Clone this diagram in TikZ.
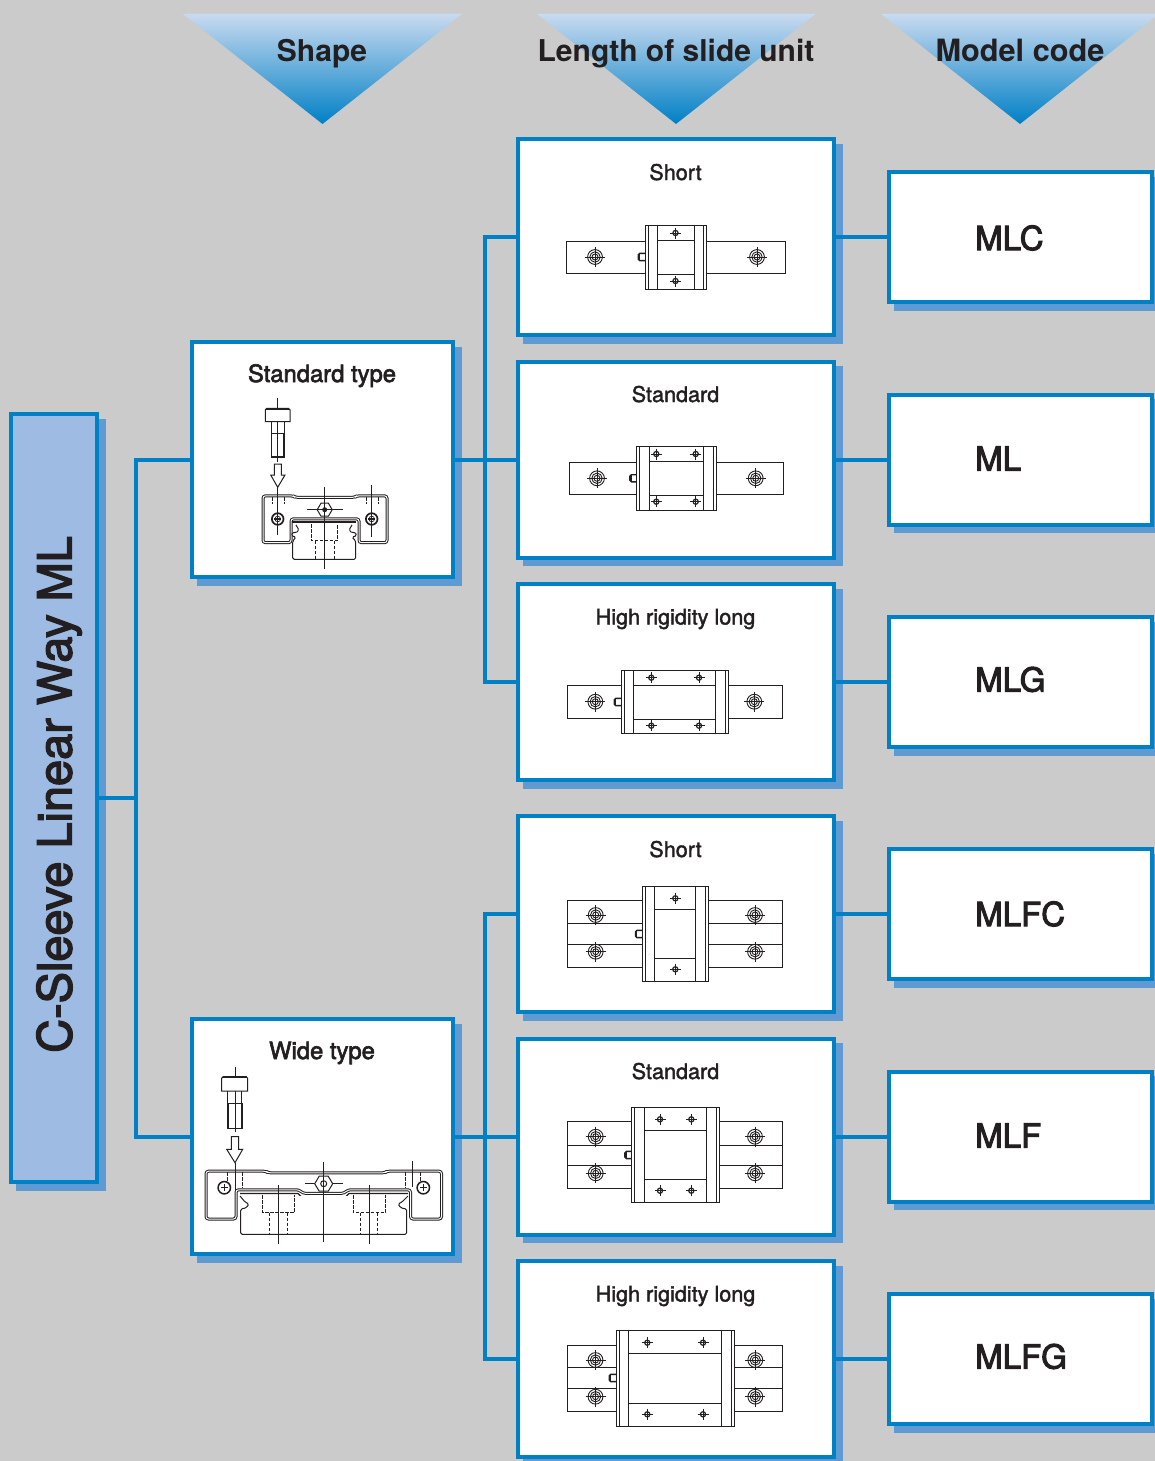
\documentclass[tikz,border=0pt]{standalone}
\usepackage{fontspec}
\usetikzlibrary{shadows}
\setmainfont{TeX Gyre Heros}
\newcommand{\emb}[2]{\special{pdf:code q 2 Tr #1 w}#2\special{pdf:code Q}}
\definecolor{bggrey}{HTML}{CBCBCB}
\definecolor{boxblue}{HTML}{0080C5}
\definecolor{shadowblue}{HTML}{5F9AD2}
\definecolor{mainfill}{HTML}{9DBBE3}
\definecolor{ink}{HTML}{231F20}
\definecolor{gradtop}{HTML}{C9DAF0}
\definecolor{gradmid}{HTML}{7AA4DB}
\tikzset{
  bluebox/.style={draw=boxblue,line width=4pt,fill=white,inner sep=0pt,
    copy shadow={shadow xshift=6.7pt,shadow yshift=-6.7pt,draw=shadowblue,fill=shadowblue}},
  lenbox/.style={bluebox,minimum width=316pt,minimum height=196pt},
  modelbox/.style={bluebox,minimum width=263pt,minimum height=130pt},
  shapebox/.style={bluebox,minimum width=261pt,minimum height=235pt},
  link/.style={draw=boxblue,line width=4pt},
  headtext/.style={font=\bfseries\fontsize{30}{32}\selectfont,text=ink,anchor=base,inner sep=0pt},
  labeltext/.style={font=\fontsize{21.6}{24}\selectfont,text=ink,anchor=base,inner sep=0pt},
  shapetext/.style={font=\fontsize{23.8}{26}\selectfont,text=ink,anchor=base,inner sep=0pt},
  modeltext/.style={font=\fontsize{33}{36}\selectfont,text=ink,anchor=base west,inner sep=0pt},
  drawing/.style={draw=ink,line width=1pt},
  thinline/.style={draw=ink,line width=0.45pt},
  dashline/.style={draw=ink,line width=0.7pt,dash pattern=on 3.5pt off 1.5pt},
}
\newcommand{\railbar}[4]{\draw[drawing,fill=white] (#1,#3) rectangle (#2,#4);}
\newcommand{\railsplit}[4]{\draw[drawing] (#1,#3) -- (#2,#3) (#1,#4) -- (#2,#4);}
\newcommand{\mbolt}[2]{%
  \draw[thinline] (#1-10,#2) -- (#1+10,#2) (#1,#2-10) -- (#1,#2+10);
  \draw[draw=ink,line width=0.9pt] (#1,#2) circle (7.4pt) circle (5.2pt) circle (3pt);}
\newcommand{\tinyscrew}[2]{%
  \draw[thinline] (#1-5.5,#2) -- (#1+5.5,#2) (#1,#2-5.5) -- (#1,#2+5.5);
  \draw[draw=ink,line width=1.2pt] (#1,#2) circle (2.6pt);}
\newcommand{\grease}[2]{%
  \draw[draw=ink,line width=1.4pt,rounded corners=1.5pt] (#1,#2-3.6) -- (#1-6.8,#2-3.6) -- (#1-6.8,#2+3.6) -- (#1,#2+3.6);
  \draw[ink,line width=2.2pt] (#1-6,#2-3) -- (#1-6,#2+3);}
\newcommand{\slideblock}[6]{%
  \draw[drawing,fill=white] (#1,#3) rectangle (#2,#4);
  \draw[drawing] (#1+3,#3) -- (#1+3,#4) (#2-3,#3) -- (#2-3,#4);
  \draw[drawing] (#1+12.5,#3) -- (#1+12.5,#4) (#2-12.5,#3) -- (#2-12.5,#4);
  \draw[drawing] (#1+12.5,#5) -- (#2-12.5,#5) (#1+12.5,#6) -- (#2-12.5,#6);}
\newcommand{\capbolt}[9]{% cx, headL, headR, headT, headB, shankL, shankR, shankB, threadY
  \draw[drawing,fill=white] (#2,#5) -- (#2,#4+1.5) -- (#2+1.5,#4) -- (#3-1.5,#4) -- (#3,#4+1.5) -- (#3,#5) -- cycle;
  \draw[ink,line width=1.7pt] (#2+1,#4+.4) -- (#3-1,#4+.4);
  \draw[drawing] (#6,#5) -- (#6,#9) (#7,#5) -- (#7,#9);
  \draw[drawing,line width=1.6pt] (#6,#9) -- (#6,#8) -- (#7,#8) -- (#7,#9) -- cycle;}
\begin{document}
\begin{tikzpicture}[x=1pt,y=-1pt]
\useasboundingbox (0,0) rectangle (1155,1461);
\clip (0,0) rectangle (1155,1461);
\fill[bggrey] (0,0) rectangle (1155,1461);

% header triangles
\shade[top color=gradtop,middle color=gradmid,bottom color=boxblue] (183,14) -- (462,14) -- (322.5,124) -- cycle;
\shade[top color=gradtop,middle color=gradmid,bottom color=boxblue] (537,14) -- (815.5,14) -- (676,124) -- cycle;
\shade[top color=gradtop,middle color=gradmid,bottom color=boxblue] (881,14) -- (1159,14) -- (1020,124) -- cycle;
\node[headtext] (hShape) at (322,62) {Shape};
\node[headtext] (hLength) at (676,62) {Length of slide unit};
\node[headtext,font=\bfseries\fontsize{30.7}{32}\selectfont] (hModel) at (1020,62) {Model code};

% boxes
\node[bluebox,minimum width=86pt,minimum height=768pt,fill=mainfill] (main) at (54,798) {};
\node[shapebox] (std) at (322.5,459.5) {};
\node[shapebox] (wide) at (322.5,1136.5) {};
\node[lenbox] (a1) at (676,237) {};
\node[lenbox] (a2) at (676,459.5) {};
\node[lenbox] (a3) at (676,682) {};
\node[lenbox] (b1) at (676,914) {};
\node[lenbox] (b2) at (676,1136.5) {};
\node[lenbox] (b3) at (676,1359) {};
\node[modelbox] (m1) at (1020.5,237) {};
\node[modelbox] (m2) at (1020.5,459.5) {};
\node[modelbox] (m3) at (1020.5,682) {};
\node[modelbox] (m4) at (1020.5,914) {};
\node[modelbox] (m5) at (1020.5,1136.5) {};
\node[modelbox] (m6) at (1020.5,1359) {};

% connectors
\coordinate (busMain) at (136,798);
\coordinate (busA) at (485,459.5);
\coordinate (busB) at (485,1136.5);
\draw[link] (main.east) -- (busMain);
\draw[link] (std.west) -| (busMain);
\draw[link] (wide.west) -| (busMain);
\draw[link] (std.east) -- (a2.west);
\draw[link] (wide.east) -- (b2.west);
\draw[link] (a1.west) -| (busA);
\draw[link] (a3.west) -| (busA);
\draw[link] (b1.west) -| (busB);
\draw[link] (b3.west) -| (busB);
\foreach \p/\q in {a1/m1,a2/m2,a3/m3,b1/m4,b2/m5,b3/m6}{\draw[link] (\p.east) -- (\q.west);}

% texts
\node[rotate=90,font=\fontsize{46.9}{50}\selectfont,text=ink,inner sep=0pt,anchor=base] (mainT) at (71.5,794.5) {\emb{1.4}{C-Sleeve Linear Way ML}};
\node[shapetext] (tStd) at (322,382) {\emb{0.6}{Standard type}};
\node[shapetext] (tWide) at (322,1059) {\emb{0.6}{Wide type}};
\node[labeltext] (l1) at (675.5,180) {\emb{0.35}{Short}};
\node[labeltext] (l2) at (675.5,402) {\emb{0.35}{Standard}};
\node[labeltext] (l3) at (675.5,624.5) {\emb{0.35}{High rigidity long}};
\node[labeltext] (l4) at (675.5,857) {\emb{0.35}{Short}};
\node[labeltext] (l5) at (675.5,1079) {\emb{0.35}{Standard}};
\node[labeltext] (l6) at (675.5,1301.5) {\emb{0.35}{High rigidity long}};
\node[modeltext] (c1) at (975,250) {\emb{1}{MLC}};
\node[modeltext] (c2) at (975,470.5) {\emb{1}{ML}};
\node[modeltext] (c3) at (975,691.5) {\emb{1}{MLG}};
\node[modeltext] (c4) at (975,926) {\emb{1}{MLFC}};
\node[modeltext] (c5) at (975,1147.5) {\emb{1}{MLF}};
\node[modeltext] (c6) at (975,1368.5) {\emb{1}{MLFG}};

% --- Standard type drawing
\draw[thinline] (277.7,398) -- (277.7,462);
\capbolt{277.7}{265.3}{290}{408.3}{421.7}{271.3}{284}{456.7}{433.3}
\draw[drawing,fill=white] (274.3,464) -- (281.3,464) -- (281.3,475) -- (285,475) -- (277.7,487.3) -- (270.7,475) -- (274.3,475) -- cycle;
\draw[draw=ink,line width=1pt,double=white,double distance=1pt,rounded corners=2.5pt]
  (291,542.7) -- (263,542.7) -- (263,495.8) -- (293,495.8) -- (295,497.3) -- (355,497.3) -- (357,495.8) -- (387,495.8) -- (387,542.7) -- (359,542.7) -- (359,518.8) -- (291,518.8) -- cycle;
\draw[ink,line width=2pt] (292,522) -- (356,522);
\draw[drawing,fill=white,rounded corners=1.5pt] (296,525) -- (299,530) -- (296,533) -- (292.7,532) -- (291.5,536) -- (296,537) -- (292.7,541) -- (292.7,559.3) -- (355.7,559.3) -- (355.7,541) -- (352,537) -- (356.5,536) -- (355.3,532) -- (352,533) -- (349,530) -- (352,525);
\draw[dashline] (311.3,524) -- (311.3,540.7) -- (337.7,540.7) -- (337.7,524);
\draw[dashline] (315,540.7) -- (315,558.5) (334,540.7) -- (334,558.5);
\draw[thinline] (324.7,486.7) -- (324.7,569.3) (306.7,509.7) -- (342.7,509.7);
\draw[drawing] (317.2,509.7) -- (321,503.2) -- (328.4,503.2) -- (332.2,509.7) -- (328.4,516.2) -- (321,516.2) -- cycle;
\fill[ink] (324.7,509.7) circle (2.5pt);
\draw[dashline] (272,497) -- (272,503.5) (284,497) -- (284,503.5) (366,497) -- (366,503.5) (378.3,497) -- (378.3,503.5);
\draw[thinline] (277.7,487.3) -- (277.7,535) (371.7,485) -- (371.7,536.7);
\foreach \sx in {277.7,371.7}{
  \draw[draw=ink,line width=1.7pt] (\sx,519) circle (5.8pt);
  \draw[draw=ink,line width=0.7pt] (\sx,519) circle (2.8pt);
  \draw[ink,line width=1.1pt] (\sx-3.5,519) -- (\sx+3.5,519) (\sx,515.5) -- (\sx,522.5);}

% --- Wide type drawing
\draw[thinline] (235,1066.7) -- (235,1132);
\capbolt{235}{221.7}{247.7}{1076.7}{1091}{227.7}{241.7}{1128.3}{1103.3}
\draw[drawing,fill=white] (231.3,1136.7) -- (238.7,1136.7) -- (238.7,1149.3) -- (242.7,1149.3) -- (235,1162.7) -- (226.7,1149.3) -- (231.3,1149.3) -- cycle;
\draw[draw=ink,line width=1pt,double=white,double distance=1pt,rounded corners=2.5pt]
  (236,1219) -- (206,1219) -- (206,1171.2) -- (266,1171.2) -- (268,1172.8) -- (385,1172.8) -- (387,1171.2) -- (441.5,1171.2) -- (441.5,1219) -- (410.5,1219) -- (410.5,1189.8) -- (348,1189.8) -- (344,1193.3) -- (303,1193.3) -- (299,1189.8) -- (236,1189.8) -- cycle;
\draw[drawing,line width=1.2pt] (240,1193.5) -- (298,1193.5) -- (302,1197.3) -- (345,1197.3) -- (349,1193.5) -- (408,1193.5);
\draw[drawing,fill=white,rounded corners=1.5pt] (240,1196) -- (245,1202) -- (249,1204) -- (246,1208) -- (240.7,1209) -- (240.7,1234.3) -- (406.7,1234.3) -- (406.7,1209) -- (401,1208) -- (398,1204) -- (402,1202) -- (408,1196);
\draw[dashline] (262.7,1195) -- (262.7,1212.7) -- (294,1212.7) -- (294,1195);
\draw[dashline] (269.3,1212.7) -- (269.3,1234) (287.3,1212.7) -- (287.3,1234);
\draw[dashline] (353.3,1195) -- (353.3,1212.7) -- (385.7,1212.7) -- (385.7,1195);
\draw[dashline] (360.3,1212.7) -- (360.3,1234) (377.7,1212.7) -- (377.7,1234);
\draw[thinline] (278.3,1185) -- (278.3,1244.3) (369,1185) -- (369,1244.3);
\draw[thinline] (323.7,1162.3) -- (323.7,1241.7) (305,1183.7) -- (342.7,1183.7);
\draw[drawing,fill=white] (314.7,1183.7) -- (319.2,1176.2) -- (328.2,1176.2) -- (332.7,1183.7) -- (328.2,1191.2) -- (319.2,1191.2) -- cycle;
\draw[drawing] (323.7,1183.7) circle (3pt);
\draw[thinline] (323.7,1176.2) -- (323.7,1191.2);
\draw[dashline] (227.3,1172) -- (227.3,1188) (242.3,1172) -- (242.3,1188) (405,1172) -- (405,1188) (420,1172) -- (420,1188);
\draw[thinline] (235,1162.7) -- (235,1190) (412.7,1161) -- (412.7,1186.7);
\foreach \sx in {224.3,423.3}{
  \draw[draw=ink,line width=1.5pt,fill=white] (\sx,1187.7) circle (6.2pt);
  \draw[ink,line width=1.3pt] (\sx-3.5,1187.7) -- (\sx+3.5,1187.7) (\sx,1184.2) -- (\sx,1191.2);}

% --- Short
\railbar{566.5}{785}{241}{273.5}
\slideblock{645}{706.5}{225}{289.5}{240.5}{274}
\grease{645}{257}
\mbolt{595}{257}\mbolt{757}{257}
\tinyscrew{675.5}{233}\tinyscrew{675.5}{281}
% --- Standard
\railbar{569}{783.5}{462.3}{494.3}
\slideblock{636.7}{716}{446.7}{510}{461.7}{495}
\grease{636.7}{478.3}
\mbolt{597}{478.3}\mbolt{755.7}{478.3}
\tinyscrew{656.3}{454}\tinyscrew{695.7}{454}\tinyscrew{656.3}{501.7}\tinyscrew{695.7}{501.7}
% --- High rigidity long
\railbar{567.7}{782}{685.7}{718.3}
\slideblock{621}{728.3}{670}{733.3}{685}{719}
\grease{621}{702}
\mbolt{595.3}{701.7}\mbolt{754.3}{701.7}
\tinyscrew{651.3}{677.7}\tinyscrew{699}{677.7}\tinyscrew{651.3}{725.7}\tinyscrew{699}{725.7}
% --- Wide short
\railbar{567.7}{782.7}{900}{967.3}
\railsplit{567.7}{782.7}{923.3}{944}
\slideblock{642.3}{708.3}{886.7}{981.7}{909}{958.3}
\grease{642.3}{934}
\mbolt{595.7}{915}\mbolt{755}{915}\mbolt{595.7}{951.7}\mbolt{755}{951.7}
\tinyscrew{675.3}{898.3}\tinyscrew{675.3}{969.3}
% --- Wide standard
\railbar{567.7}{782.7}{1121.7}{1188.3}
\railsplit{567.7}{782.7}{1145}{1165}
\slideblock{631.7}{719.3}{1107.3}{1202.7}{1130}{1179.3}
\grease{631.7}{1155}
\mbolt{595.7}{1136.7}\mbolt{755}{1136.7}\mbolt{595.7}{1173.3}\mbolt{755}{1173.3}
\tinyscrew{660}{1119.3}\tinyscrew{691.3}{1119.3}\tinyscrew{660}{1190.7}\tinyscrew{691.3}{1190.7}
% --- Wide high
\railbar{567.7}{782.7}{1345}{1411.7}
\railsplit{567.7}{782.7}{1367.7}{1388.3}
\slideblock{616}{734.3}{1330.7}{1426}{1353.3}{1403.3}
\grease{616}{1378}
\mbolt{595.5}{1360}\mbolt{755.3}{1360}\mbolt{595.5}{1396.7}\mbolt{755.3}{1396.7}
\tinyscrew{647.3}{1342.7}\tinyscrew{703}{1342.7}\tinyscrew{647.3}{1414.3}\tinyscrew{703}{1414.3}
\end{tikzpicture}
\end{document}
